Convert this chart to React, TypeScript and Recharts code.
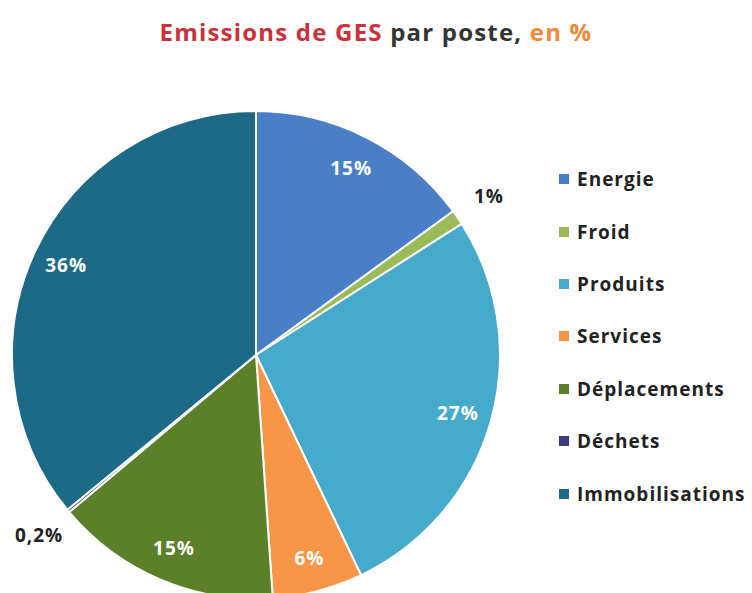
import { Cell, Legend, Pie, PieChart } from 'recharts';

const categories = ['Energie', 'Froid', 'Produits', 'Services', 'Déplacements', 'Déchets', 'Immobilisations'];
const shares = [15, 1, 27, 6, 15, 0.2, 36];
const shareLabels = ['15%', '1%', '27%', '6%', '15%', '0,2%', '36%'];
const colors = ['#4a7fc5', '#9bbb59', '#46aacb', '#f79646', '#5c7f2a', '#3d3b7a', '#1d6a86'];

const data = categories.map((name, i) => ({ name, value: shares[i], label: shareLabels[i] }));

const FONT = '"Open Sans", Lato, sans-serif';
const RAD = Math.PI / 180;

function renderLabel(props: any) {
  const { cx, cy, midAngle, outerRadius, index } = props;
  const small = shares[index] < 2;
  const r = small ? outerRadius + 38 : outerRadius - 34;
  const x = cx + r * Math.cos(-midAngle * RAD);
  const y = cy + r * Math.sin(-midAngle * RAD);
  return (
    <text
      x={x}
      y={y}
      fill={small ? '#222' : '#fff'}
      textAnchor="middle"
      dominantBaseline="central"
      fontFamily={FONT}
      fontWeight={700}
      fontSize={19}
      letterSpacing={1}
    >
      {shareLabels[index]}
    </text>
  );
}

// keep the legend in the data order (recharts sorts the payload by name)
function LegendList() {
  return (
    <div style={{ fontFamily: FONT, fontWeight: 700, fontSize: 19, letterSpacing: 1, color: '#222' }}>
      {categories.map((name, i) => (
        <div key={name} style={{ display: 'flex', alignItems: 'center', height: 52.4 }}>
          <span style={{ width: 10, height: 10, background: colors[i], marginRight: 8, display: 'inline-block' }} />
          {name}
        </div>
      ))}
    </div>
  );
}

export default function App() {
  return (
    <div style={{ position: 'fixed', left: 0, top: 0, width: 752, height: 593, background: '#fff', overflow: 'hidden' }}>
      <div
        style={{
          position: 'absolute',
          top: 15,
          left: 0,
          width: 752,
          textAlign: 'center',
          fontFamily: FONT,
          fontWeight: 700,
          fontSize: 24,
          letterSpacing: 1.2,
        }}
      >
        <span style={{ color: '#c8323a' }}>Emissions de GES</span>
        <span style={{ color: '#333' }}> par poste, </span>
        <span style={{ color: '#ee8a3a' }}>en %</span>
      </div>
      <PieChart width={752} height={593} margin={{ top: 0, right: 0, bottom: 0, left: 0 }}>
        <Pie
          data={data}
          dataKey="value"
          nameKey="name"
          cx={256}
          cy={355}
          outerRadius={244}
          startAngle={90}
          endAngle={-270}
          stroke="#fff"
          strokeWidth={2}
          label={renderLabel}
          labelLine={false}
          isAnimationActive={false}
        >
          {data.map((d, i) => (
            <Cell key={d.name} fill={colors[i]} />
          ))}
        </Pie>
        <Legend
          layout="vertical"
          align="right"
          verticalAlign="top"
          content={<LegendList />}
          wrapperStyle={{ left: 559, top: 153, width: 193 }}
        />
      </PieChart>
    </div>
  );
}
